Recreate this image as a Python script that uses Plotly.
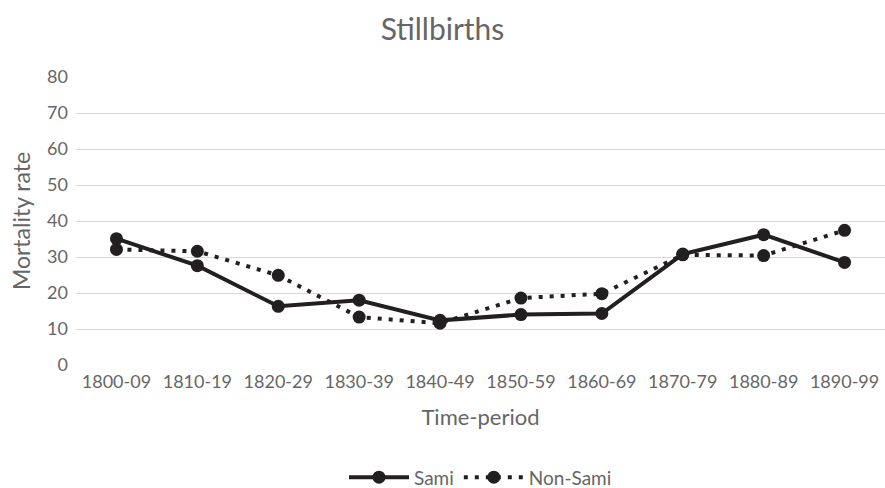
import plotly.graph_objects as go

periods = ["1800-09", "1810-19", "1820-29", "1830-39", "1840-49",
           "1850-59", "1860-69", "1870-79", "1880-89", "1890-99"]
sami = [35.1, 27.6, 16.3, 18.0, 12.4, 14.0, 14.3, 30.8, 36.2, 28.5]
non_sami = [32.1, 31.6, 24.9, 13.3, 11.6, 18.6, 19.8, 30.6, 30.4, 37.4]
y_ticks = [0, 10, 20, 30, 40, 50, 60, 70, 80]

ink = "#231f20"
grey = "#666666"
font_family = "Lato, 'Open Sans', sans-serif"

fig = go.Figure()
fig.add_trace(go.Scatter(
    x=periods, y=sami, name="Sami", mode="lines+markers",
    line=dict(color=ink, width=4, dash="solid"),
    marker=dict(color=ink, size=13),
))
fig.add_trace(go.Scatter(
    x=periods, y=non_sami, name="Non-Sami", mode="lines+markers",
    line=dict(color=ink, width=4, dash="4px,7px"),
    marker=dict(color=ink, size=13),
))

fig.update_layout(
    width=885, height=488,
    margin=dict(l=76, r=0, t=77, b=123, autoexpand=False),
    paper_bgcolor="white", plot_bgcolor="white",
    font=dict(family=font_family, color=grey, size=18),
    title=dict(text="Stillbirths", x=0.5, xanchor="center", y=0.94, yanchor="middle",
               font=dict(size=30, color=grey, family=font_family)),
    showlegend=True,
    legend=dict(orientation="h", x=0.5, xanchor="center", y=-0.39, yanchor="middle",
                font=dict(size=19, color=grey), itemwidth=60),
)
fig.update_xaxes(
    type="category", range=[-0.5, 9.5], showgrid=False, showline=False,
    ticks="", tickfont=dict(size=18, color=grey), automargin=False,
    ticklabelstandoff=4,
    title=dict(text="Time-period", font=dict(size=22, color=grey), standoff=18),
)
fig.update_yaxes(
    range=[0, 80], tickvals=y_ticks, showgrid=True, gridcolor="#d9d9d9", gridwidth=1,
    zeroline=False, showline=False, ticks="", tickfont=dict(size=18, color=grey),
    automargin=False, ticklabelstandoff=7,
    title=dict(text="Mortality rate", font=dict(size=23, color=grey), standoff=10),
)

fig.write_html("out.html", config={"displayModeBar": False},
               post_script="document.body.style.margin='0';document.body.style.overflow='hidden';")
